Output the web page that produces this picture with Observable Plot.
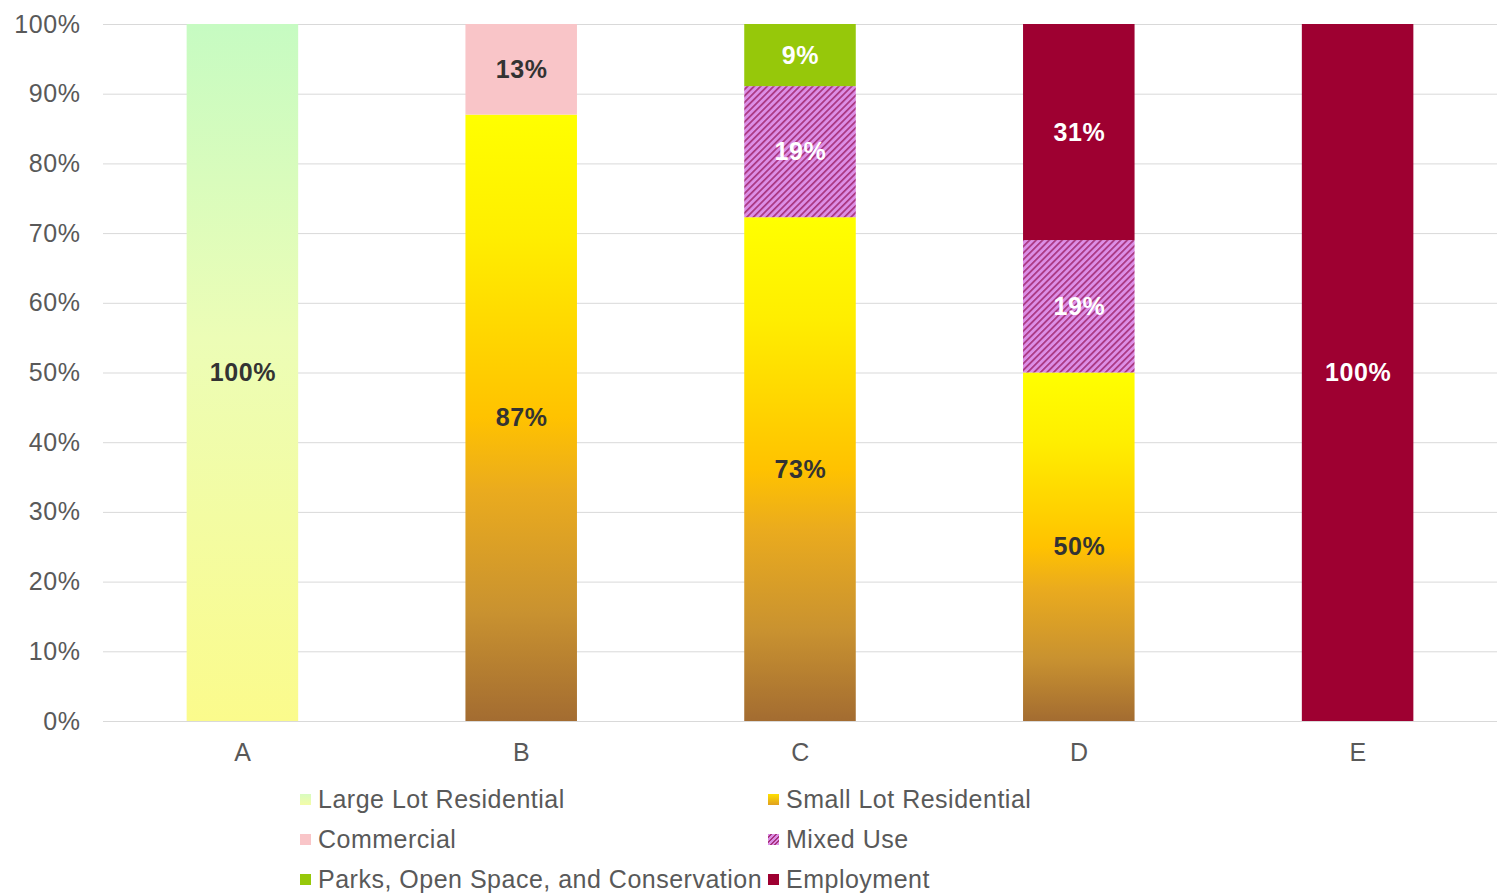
<!DOCTYPE html>
<html><head><meta charset="utf-8">
<script src="https://cdn.jsdelivr.net/npm/d3@7"></script>
<script src="https://cdn.jsdelivr.net/npm/@observablehq/plot@0.6"></script>
<style>
body{margin:0;background:#fff;font-family:"Liberation Sans",Arial,sans-serif;}
#wrap{position:relative;width:1497px;height:895px;overflow:hidden;}
.leg{position:absolute;font-size:25px;letter-spacing:0.5px;line-height:28px;color:#595959;display:flex;align-items:center;white-space:nowrap;}
.sw{width:11px;height:11px;margin-right:7px;flex:none;}
svg text{letter-spacing:0.6px;}
</style></head><body><div id="wrap"></div><script>
const zones = ["A", "B", "C", "D", "E"];
const series = ["Large Lot Residential", "Small Lot Residential", "Commercial", "Mixed Use", "Parks, Open Space, and Conservation", "Employment"];
const largeLot = [100, 0, 0, 0, 0];
const smallLot = [0, 87, 73, 50, 0];
const commercial = [0, 13, 0, 0, 0];
const mixedUse = [0, 0, 19, 19, 0];
const parks = [0, 0, 9, 0, 0];
const employment = [0, 0, 0, 31, 100];
const yTicks = [0, 0.1, 0.2, 0.3, 0.4, 0.5, 0.6, 0.7, 0.8, 0.9, 1];
const yTickLabels = ["0%", "10%", "20%", "30%", "40%", "50%", "60%", "70%", "80%", "90%", "100%"];

const seriesValues = [largeLot, smallLot, commercial, mixedUse, parks, employment];
const fills = {
  "Large Lot Residential": "url(#gLarge)",
  "Small Lot Residential": "url(#gSmall)",
  "Commercial": "#f9c5c8",
  "Mixed Use": "url(#pMixed)",
  "Parks, Open Space, and Conservation": "#96c80a",
  "Employment": "#9e0031"
};
const darkLabel = ["Large Lot Residential", "Small Lot Residential", "Commercial"];

const rows = [];
series.forEach((s, si) => zones.forEach((z, zi) => {
  const v = seriesValues[si][zi];
  if (v > 0) rows.push({zone: z, series: s, value: v});
}));

const chart = Plot.plot({
  width: 1497, height: 770,
  marginLeft: 103, marginRight: 0, marginTop: 24, marginBottom: 49,
  style: {fontFamily: "Liberation Sans, Arial, sans-serif", fontSize: "25px", color: "#595959", background: "white", overflow: "visible"},
  x: {domain: zones, paddingInner: 0.6, paddingOuter: 0.3, round: false, label: null, tickSize: 0, tickPadding: 22},
  y: {domain: [0, 1], ticks: yTicks, tickFormat: (d) => yTickLabels[yTicks.indexOf(d)], label: null, tickSize: 0, tickPadding: 23},
  color: {type: "identity"},
  marks: [
    Plot.gridY(yTicks, {stroke: "#d9d9d9", strokeOpacity: 1}),
    Plot.barY(rows, Plot.stackY({x: "zone", y: "value", z: "series", offset: "normalize", fill: d => fills[d.series]})),
    Plot.text(rows, Plot.stackY({x: "zone", y: "value", z: "series", offset: "normalize",
      text: d => d.value + "%",
      fill: d => darkLabel.includes(d.series) ? "#333333" : "#ffffff",
      fontWeight: "bold", fontSize: 25}))
  ]
});

const svg = d3.select(chart);
const defs = svg.insert("defs", ":first-child");
const gL = defs.append("linearGradient").attr("id", "gLarge").attr("x1", 0).attr("y1", 0).attr("x2", 0).attr("y2", 1);
[[0, "#c6fbc2"], [0.45, "#ecfdb6"], [1, "#fbfb8c"]].forEach(([o, c]) => gL.append("stop").attr("offset", o).attr("stop-color", c));
const gS = defs.append("linearGradient").attr("id", "gSmall").attr("x1", 0).attr("y1", 0).attr("x2", 0).attr("y2", 1);
[[0, "#ffff00"], [0.2, "#ffee00"], [0.5, "#ffc200"], [0.62, "#eaab1e"], [0.82, "#c99230"], [1, "#a36c31"]].forEach(([o, c]) => gS.append("stop").attr("offset", o).attr("stop-color", c));
const pM = defs.append("pattern").attr("id", "pMixed").attr("patternUnits", "userSpaceOnUse")
  .attr("width", 4.6).attr("height", 4.6).attr("patternTransform", "rotate(45)");
pM.append("rect").attr("width", 4.6).attr("height", 4.6).attr("fill", "#dc8ee6");
pM.append("rect").attr("width", 1.7).attr("height", 4.6).attr("fill", "#a8347e");

const wrap = document.getElementById("wrap");
wrap.appendChild(chart);

const legendItems = [
  {name: series[0], left: 300, top: 785, sw: "linear-gradient(#d8fcc0,#f4fca8)"},
  {name: series[1], left: 768, top: 785, sw: "linear-gradient(#ffe000,#e0a020)"},
  {name: series[2], left: 300, top: 825, sw: "#f9c5c8"},
  {name: series[3], left: 768, top: 825, sw: "repeating-linear-gradient(135deg,#dc8ee6 0 2px,#a8347e 2px 3.3px)"},
  {name: series[4], left: 300, top: 865, sw: "#96c80a"},
  {name: series[5], left: 768, top: 865, sw: "#9e0031"}
];
legendItems.forEach(it => {
  const d = document.createElement("div");
  d.className = "leg";
  d.style.left = it.left + "px";
  d.style.top = it.top + "px";
  const s = document.createElement("span");
  s.className = "sw";
  s.style.background = it.sw;
  d.appendChild(s);
  const t = document.createElement("span");
  t.textContent = it.name;
  d.appendChild(t);
  wrap.appendChild(d);
});
</script></body></html>
